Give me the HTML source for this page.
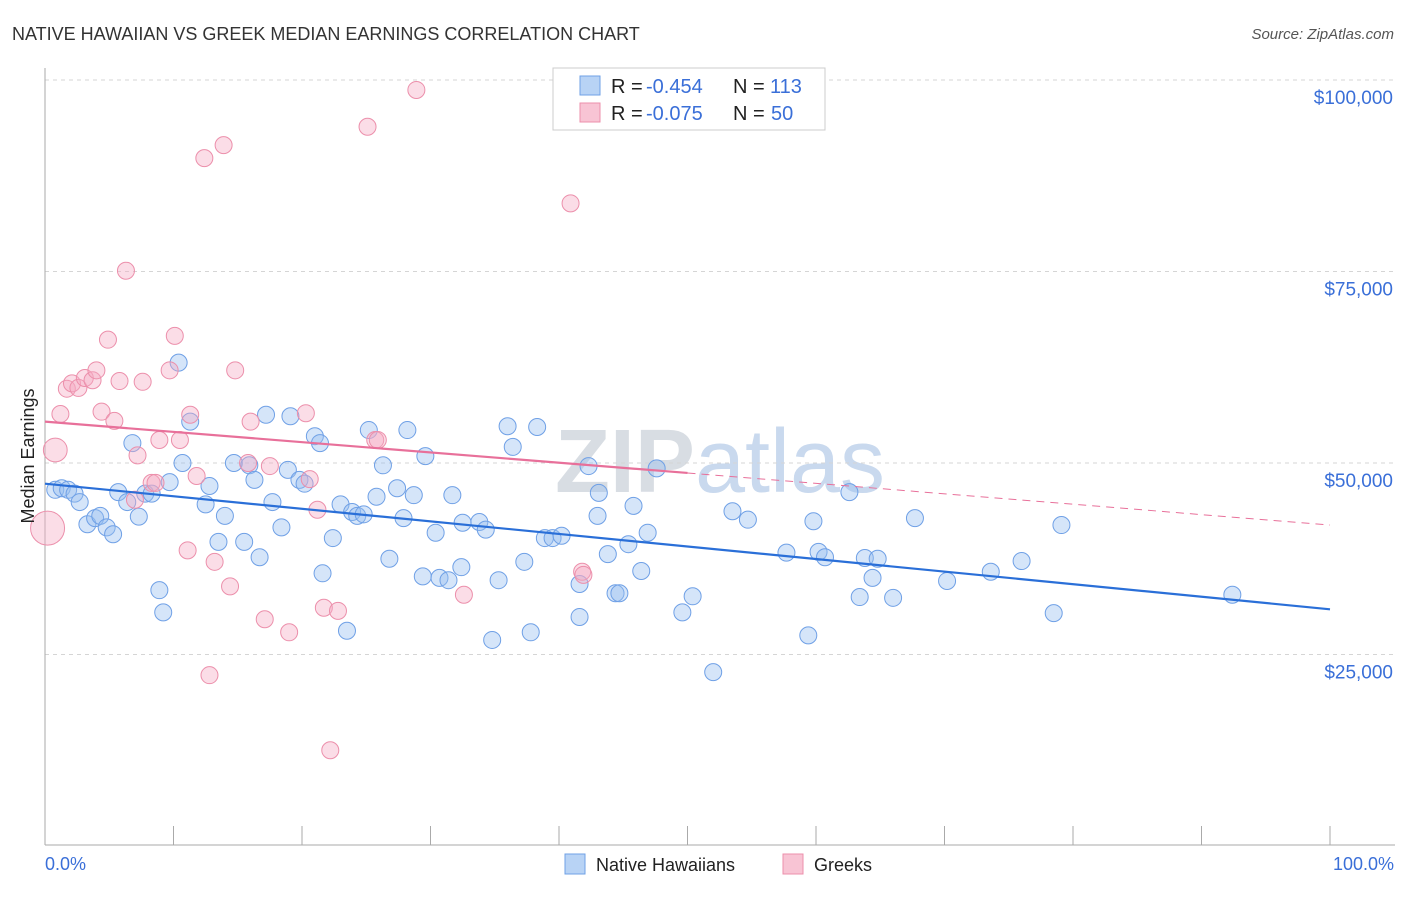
<!DOCTYPE html>
<html><head><meta charset="utf-8"><style>
body{margin:0;background:#fff;font-family:"Liberation Sans",sans-serif}
svg text{font-family:"Liberation Sans",sans-serif}
</style></head><body>
<svg id="chart" width="1406" height="892" xmlns="http://www.w3.org/2000/svg">
<text x="12" y="40" font-size="18" fill="#333">NATIVE HAWAIIAN VS GREEK MEDIAN EARNINGS CORRELATION CHART</text>
<text x="1394" y="39" font-size="15" fill="#555" font-style="italic" text-anchor="end">Source: ZipAtlas.com</text>
<text x="720" y="492" font-size="90" fill="#dde3ea" text-anchor="middle" font-family="Liberation Serif"><tspan font-weight="bold" fill="#d8dde3">ZIP</tspan><tspan font-family="Liberation Sans" fill="#c9d9ee">atlas</tspan></text>
<g id="grid"></g><g id="axes"></g><g id="pts"></g><g id="trends"></g>
<text transform="translate(34,456) rotate(-90)" font-size="18" fill="#222" text-anchor="middle">Median Earnings</text>
<text x="45" y="870" font-size="18" fill="#3a6fd8">0.0%</text>
<text x="1394" y="870" font-size="18" fill="#3a6fd8" text-anchor="end">100.0%</text>
<g>
<rect x="553" y="68" width="272" height="62" fill="#fff" stroke="#ccc"/>
<rect x="580" y="76" width="20" height="19" fill="#b8d3f5" stroke="#6fa0e6"/>
<rect x="580" y="103" width="20" height="19" fill="#f8c4d4" stroke="#ec8fab"/>
<text x="611" y="93" font-size="20" fill="#222">R =</text><text x="646" y="93" font-size="20" fill="#3a6fd8">-0.454</text>
<text x="733" y="93" font-size="20" fill="#222">N =</text><text x="770" y="93" font-size="20" fill="#3a6fd8">113</text>
<text x="611" y="120" font-size="20" fill="#222">R =</text><text x="646" y="120" font-size="20" fill="#3a6fd8">-0.075</text>
<text x="733" y="120" font-size="20" fill="#222">N =</text><text x="771" y="120" font-size="20" fill="#3a6fd8">50</text>
</g>
<g><rect x="565" y="854" width="20" height="20" fill="#b8d3f5" stroke="#6fa0e6"/><text x="596" y="871" font-size="18" fill="#222">Native Hawaiians</text></g>
<g><rect x="783" y="854" width="20" height="20" fill="#f8c4d4" stroke="#ec8fab"/><text x="814" y="871" font-size="18" fill="#222">Greeks</text></g>
</svg>
<script>
const yTicks=[25000,50000,75000,100000];
const yTickLabels=["$25,000","$50,000","$75,000","$100,000"];
const xTicks=[0,10,20,30,40,50,60,70,80,90,100];
const blueX=[0.8,1.3,1.8,2.3,2.7,3.3,3.9,4.3,4.8,5.3,5.7,6.4,6.8,7.3,7.8,8.3,8.9,9.2,9.7,10.4,10.7,11.3,12.5,12.8,13.5,14.0,14.7,15.5,15.9,16.3,16.7,17.2,17.7,18.4,18.9,19.1,19.8,20.2,21.0,21.4,21.6,22.4,23.0,23.5,23.9,24.3,24.8,25.2,25.8,26.3,26.8,27.4,27.9,28.2,28.7,29.6,29.4,30.4,30.7,31.4,31.7,32.4,32.5,33.8,34.3,34.8,35.3,36.0,36.4,37.3,37.8,38.3,38.9,39.5,40.2,41.6,41.6,42.3,43.1,43.0,43.8,44.4,44.7,45.4,45.8,46.4,46.9,47.6,49.6,50.4,52.0,53.5,54.7,57.7,59.4,59.8,60.2,60.7,62.6,63.4,63.8,64.4,64.8,66.0,67.7,70.2,73.6,76.0,78.5,79.1,92.4];
const blueY=[46.5,46.7,46.5,46.0,44.9,42.0,42.8,43.1,41.6,40.7,46.2,44.9,52.6,43.0,46.0,46.0,33.4,30.5,47.5,63.1,50.0,55.4,44.6,47.0,39.7,43.1,50.0,39.7,49.7,47.8,37.7,56.3,44.9,41.6,49.1,56.1,47.8,47.3,53.5,52.6,35.6,40.2,44.6,28.1,43.6,43.1,43.3,54.3,45.6,49.7,37.5,46.7,42.8,54.3,45.8,50.9,35.2,40.9,35.0,34.7,45.8,36.4,42.2,42.3,41.3,26.9,34.7,54.8,52.1,37.1,27.9,54.7,40.2,40.2,40.5,34.2,29.9,49.6,46.1,43.1,38.1,33.0,33.0,39.4,44.4,35.9,40.9,49.3,30.5,32.6,22.7,43.7,42.6,38.3,27.5,42.4,38.4,37.7,46.2,32.5,37.6,35.0,37.5,32.4,42.8,34.6,35.8,37.2,30.4,41.9,32.8];
const pinkX=[0.2,0.8,1.2,1.7,2.1,2.6,3.1,3.7,4.0,4.4,4.9,5.4,5.8,6.3,7.0,7.2,7.6,8.3,8.6,8.9,9.7,10.1,10.5,11.1,11.3,11.8,12.4,12.8,13.2,13.9,14.4,14.8,15.8,16.0,17.1,17.5,19.0,20.3,20.6,21.2,21.7,22.2,22.8,25.1,25.7,25.9,28.9,32.6,40.9,41.8,41.9];
const pinkY=[41.5,51.7,56.4,59.7,60.4,59.8,61.1,60.8,62.1,56.7,66.1,55.5,60.7,75.1,45.2,51.0,60.6,47.4,47.4,53.0,62.1,66.6,53.0,38.6,56.3,48.3,89.8,22.3,37.1,91.5,33.9,62.1,50.0,55.4,29.6,49.6,27.9,56.5,47.9,43.9,31.1,12.5,30.7,93.9,53.0,53.0,98.7,32.8,83.9,35.8,35.4];
const pinkWeight=[2.0,1.4];
const blueTrend=[[0,47.3],[100,30.9]];
const pinkTrend=[[0,55.4],[50,48.7],[100,41.9]];
const NS="http://www.w3.org/2000/svg";
const xs=v=>45+v*12.85, ys=k=>846-k*7.66;
function mk(p,t,a){const e=document.createElementNS(NS,t);for(const k in a)e.setAttribute(k,a[k]);p.appendChild(e);return e;}
const grid=document.getElementById('grid'),axes=document.getElementById('axes'),pts=document.getElementById('pts'),tr=document.getElementById('trends');
yTicks.forEach((t,i)=>{const y=ys(t/1000);
 const l=mk(grid,'line',{x1:45,x2:1395,y1:y,y2:y,stroke:'#d5d5d5','stroke-dasharray':'4,4'});
 
 
 const tx=mk(grid,'text',{x:1393,y:y+24,'font-size':19,fill:'#3a6fd8','text-anchor':'end'});tx.textContent=yTickLabels[i];
 
 });
const ya=mk(axes,'line',{x1:45,x2:45,y1:68,y2:845,stroke:'#aaa'});


const xa=mk(axes,'line',{x1:45,x2:1395,y1:845,y2:845,stroke:'#aaa'});


xTicks.forEach(t=>{const x=xs(t);const l=mk(axes,'line',{x1:x,x2:x,y1:826,y2:845,stroke:'#aaa'});
 
 });
blueX.forEach((v,i)=>{const c=mk(pts,'circle',{cx:xs(v),cy:ys(blueY[i]),r:8.5,fill:'rgba(150,190,240,0.4)',stroke:'#6fa0e6','stroke-width':1});
 
 });
pinkX.forEach((v,i)=>{const c=mk(pts,'circle',{cx:xs(v),cy:ys(pinkY[i]),r:8.5*(pinkWeight[i]||1),fill:'rgba(245,170,195,0.4)',stroke:'#ec8fab','stroke-width':1});
 
 });
const bl=mk(tr,'line',{x1:xs(blueTrend[0][0]),y1:ys(blueTrend[0][1]),x2:xs(blueTrend[1][0]),y2:ys(blueTrend[1][1]),stroke:'#2a6fd8','stroke-width':2.2});


const pl=mk(tr,'line',{x1:xs(pinkTrend[0][0]),y1:ys(pinkTrend[0][1]),x2:xs(pinkTrend[1][0]),y2:ys(pinkTrend[1][1]),stroke:'#e8709a','stroke-width':2.2});


const pd=mk(tr,'line',{x1:xs(pinkTrend[1][0]),y1:ys(pinkTrend[1][1]),x2:xs(pinkTrend[2][0]),y2:ys(pinkTrend[2][1]),stroke:'#e8709a','stroke-width':1,'stroke-dasharray':'8,6'});


</script>
</body></html>
